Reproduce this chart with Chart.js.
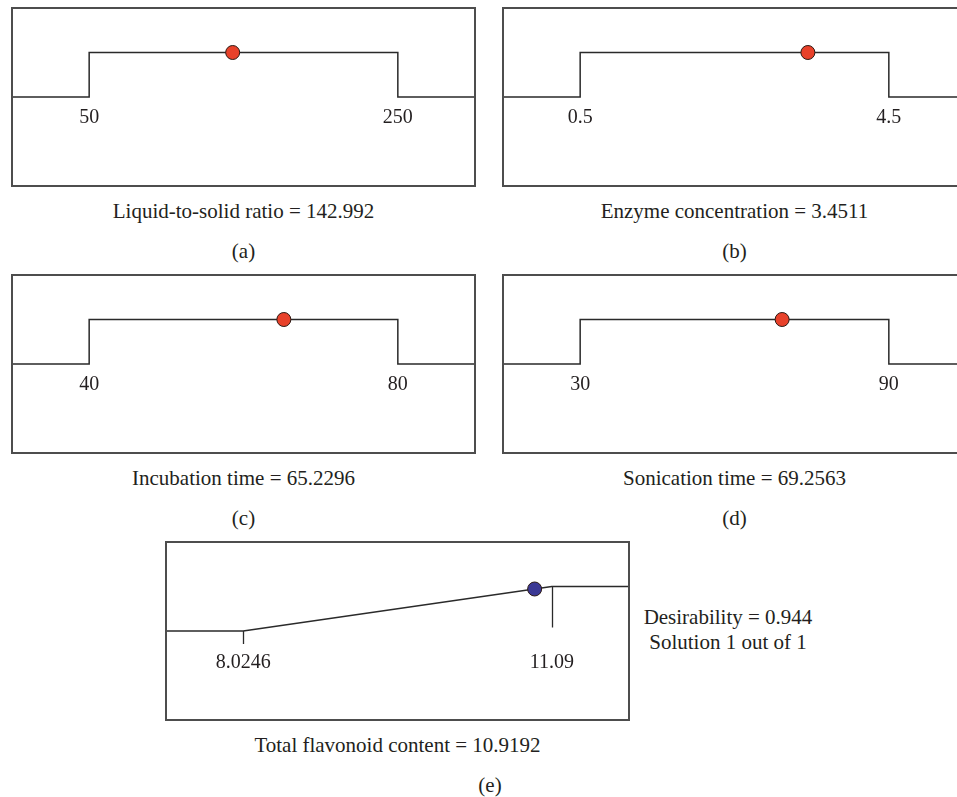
<!DOCTYPE html>
<html>
<head>
<meta charset="utf-8">
<title>Desirability ramps</title>
<script src="https://cdn.jsdelivr.net/npm/chart.js@4.4.1/dist/chart.umd.min.js"></script>
<style>
  html, body { margin: 0; padding: 0; background: #ffffff; width: 957px; height: 797px; overflow: hidden; }
  .panel { position: absolute; }
  .panel canvas { display: block; }
  .txt {
    position: absolute; white-space: nowrap; color: #231f20;
    font-family: "Liberation Serif", "DejaVu Serif", serif; font-size: 21px;
    transform: translate(-50%, -50%); line-height: 1;
  }
</style>
</head>
<body>
<script>
// Factor settings of the optimal solution
const factorNames = ['Liquid-to-solid ratio', 'Enzyme concentration', 'Incubation time', 'Sonication time'];
const factorLow = [50, 0.5, 40, 30];
const factorHigh = [250, 4.5, 80, 90];
const factorOptimum = [142.992, 3.4511, 65.2296, 69.2563];
const factorDesirability = [1, 1, 1, 1];

// Response (maximised) and overall result
const responseName = 'Total flavonoid content';
const responseLow = 8.0246;
const responseHigh = 11.09;
const responseOptimum = 10.9192;
const overallDesirability = 0.944;
const solutionText = 'Solution 1 out of 1';

const panelLetters = ['(a)', '(b)', '(c)', '(d)', '(e)'];

// Page layout (pixels)
const BOX_W = 463, BOX_H = 178, PAD = 8;
const boxOrigins = [[12, 8], [503, 8], [12, 275], [503, 275], [166, 542]];
const LINE_COLOR = '#2a2a2a';
const FRAME_COLOR = '#4d4d4d';
const FONT = '"Liberation Serif", "DejaVu Serif", serif';

// Frame around the plotting area and the small marker lines of the response ramp
const framePlugin = {
  id: 'frame',
  afterDatasetsDraw(chart) {
    const { ctx, chartArea: a, scales } = chart;
    ctx.save();
    const marks = chart.options.plugins.frame.marks || [];
    ctx.strokeStyle = LINE_COLOR;
    ctx.lineWidth = 1.3;
    marks.forEach(m => {
      const x = Math.round(scales.x.getPixelForValue(m.x)) + 0.5;
      const y0 = scales.y.getPixelForValue(m.from);
      ctx.beginPath();
      ctx.moveTo(x, y0);
      ctx.lineTo(x, y0 + m.len);
      ctx.stroke();
    });
    ctx.strokeStyle = FRAME_COLOR;
    ctx.lineWidth = 2;
    ctx.strokeRect(a.left, a.top, a.right - a.left, a.bottom - a.top);
    ctx.restore();
  }
};

function addText(text, cx, cy, size) {
  const d = document.createElement('div');
  d.className = 'txt';
  d.textContent = text;
  d.style.left = cx + 'px';
  d.style.top = cy + 'px';
  if (size) d.style.fontSize = size + 'px';
  document.body.appendChild(d);
}

function makePanel(i, profile, dot, dotColor, low, high, tickPad, marks) {
  const [bx, by] = boxOrigins[i];
  const wrap = document.createElement('div');
  wrap.className = 'panel';
  wrap.style.left = (bx - PAD) + 'px';
  wrap.style.top = (by - PAD) + 'px';
  const cv = document.createElement('canvas');
  cv.width = BOX_W + 2 * PAD;
  cv.height = BOX_H + 2 * PAD;
  wrap.appendChild(cv);
  document.body.appendChild(wrap);

  const span = high - low;
  new Chart(cv, {
    type: 'scatter',
    data: {
      datasets: [
        {
          data: dot,
          pointRadius: 7,
          pointBackgroundColor: dotColor,
          pointBorderColor: '#2b1a14',
          pointBorderWidth: 1,
          showLine: false,
          order: 0
        },
        {
          data: profile,
          showLine: true,
          borderColor: LINE_COLOR,
          borderWidth: 1.5,
          pointRadius: 0,
          tension: 0,
          order: 1
        }
      ]
    },
    options: {
      responsive: false,
      animation: false,
      devicePixelRatio: 1,
      layout: { padding: PAD },
      plugins: {
        legend: { display: false },
        tooltip: { enabled: false },
        frame: { marks }
      },
      scales: {
        x: {
          type: 'linear',
          min: low - 0.25 * span,
          max: high + 0.25 * span,
          position: { y: 0 },
          grid: { display: false, drawTicks: false },
          border: { display: false },
          afterBuildTicks: s => { s.ticks = [{ value: low }, { value: high }]; },
          ticks: {
            autoSkip: false,
            maxRotation: 0,
            padding: tickPad,
            color: '#231f20',
            font: { family: FONT, size: 20 },
            callback: v => String(v)
          }
        },
        y: { type: 'linear', min: -2, max: 2, display: false }
      }
    },
    plugins: [framePlugin]
  });

  return [bx + BOX_W / 2, by + BOX_H];
}

// Factor panels (a)-(d): desirability 1 inside the range, 0 outside
factorNames.forEach((name, i) => {
  const lo = factorLow[i], hi = factorHigh[i], span = hi - lo;
  const profile = [
    { x: lo - 0.25 * span, y: 0 }, { x: lo, y: 0 }, { x: lo, y: 1 },
    { x: hi, y: 1 }, { x: hi, y: 0 }, { x: hi + 0.25 * span, y: 0 }
  ];
  const dot = [{ x: factorOptimum[i], y: factorDesirability[i] }];
  const [cx, bottom] = makePanel(i, profile, dot, '#e8412a', lo, hi, 9, []);
  addText(name + ' = ' + factorOptimum[i], cx, bottom + 25);
  addText(panelLetters[i], cx, bottom + 65);
});

// Response panel (e): linear ramp for a maximised response
(function () {
  const lo = responseLow, hi = responseHigh, span = hi - lo;
  const profile = [
    { x: lo - 0.25 * span, y: 0 }, { x: lo, y: 0 }, { x: hi, y: 1 }, { x: hi + 0.25 * span, y: 1 }
  ];
  const dot = [{ x: responseOptimum, y: overallDesirability }];
  const marks = [{ x: lo, from: 0, len: 13 }, { x: hi, from: 1, len: 41 }];
  const [cx, bottom] = makePanel(4, profile, dot, '#3b3894', lo, hi, 20, marks);
  addText(responseName + ' = ' + responseOptimum, cx, bottom + 25);
  addText(panelLetters[4], 490, bottom + 65);
  addText('Desirability = ' + overallDesirability, 728, 617);
  addText(solutionText, 728, 642);
})();
</script>
</body>
</html>
